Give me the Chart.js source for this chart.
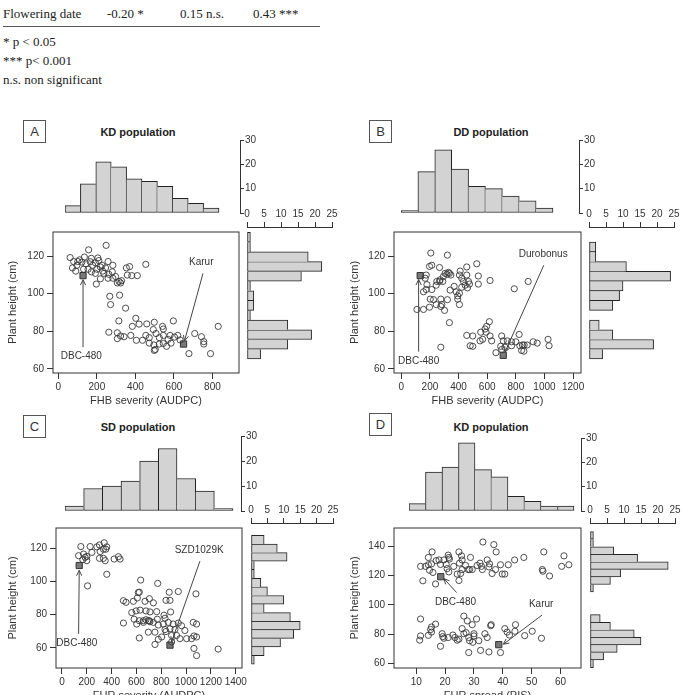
<!DOCTYPE html>
<html>
<head>
<meta charset="utf-8">
<script src="https://cdn.jsdelivr.net/npm/chart.js@4.4.0/dist/chart.umd.min.js"></script>
<style>
  body { margin: 0; width: 684px; height: 695px; overflow: hidden; background: #fff; position: relative;
         font-family: "Liberation Sans", Arial, sans-serif; color: #333; }
  canvas { position: absolute; }
  .txt { position: absolute; font-family: "Liberation Serif", "Times New Roman", serif; font-size: 13px;
         line-height: 16px; color: #222; white-space: nowrap; }
  .rule { position: absolute; left: 3px; top: 26px; width: 317px; border-top: 1px solid #555; }
  .tag { position: absolute; width: 21px; height: 21px; border: 1px solid #555; text-align: center;
         line-height: 21px; font-size: 13px; color: #333; }
  .ttl { position: absolute; font-weight: bold; font-size: 11px; color: #222; white-space: nowrap;
         transform: translate(-50%, -50%); }
</style>
</head>
<body>
<div class="txt" style="left:3px;top:6px">Flowering date</div>
<div class="txt" style="left:107px;top:6px">-0.20 *</div>
<div class="txt" style="left:180px;top:6px">0.15 n.s.</div>
<div class="txt" style="left:253px;top:6px">0.43 ***</div>
<div class="rule"></div>
<div class="txt" style="left:3px;top:34px">* p &lt; 0.05</div>
<div class="txt" style="left:3px;top:53px">*** p&lt; 0.001</div>
<div class="txt" style="left:3px;top:72px">n.s. non significant</div>

<div class="tag" style="left:23px;top:120px">A</div>
<div class="tag" style="left:369px;top:120px">B</div>
<div class="tag" style="left:23px;top:415px">C</div>
<div class="tag" style="left:369px;top:413px">D</div>
<div class="ttl" style="left:138px;top:132px">KD population</div>
<div class="ttl" style="left:491px;top:132px">DD population</div>
<div class="ttl" style="left:138px;top:427px">SD population</div>
<div class="ttl" style="left:491px;top:427px">KD population</div>

<script>
// ---- A: KD population, FHB severity vs plant height ----
const kdFhbPoints = [
  [157,123.3],[248,125.7],[61,119.2],[79,117.1],[101,117.1],[122,116.8],[143,115.9],[171,118.8],[192,116.4],
  [210,117.6],[227,115.1],[258,117.1],[283,115.1],[73,113.7],[96,115.1],[154,113],[178,115.1],[218,114.2],
  [245,113.7],[280,111.6],[297,109.1],[315,106.5],[328,106.9],[353,113.7],[370,114.4],[358,109.9],[381,109.6],
  [410,109.6],[454,115.6],[218,107.9],[197,105.1],[258,108.2],[283,108.2],[306,105.7],[323,105.7],[131,113],
  [171,111.6],[192,110.8],[236,110.8],[262,110.3],[110,118],[135,119.5],[165,117],[200,113],[230,112],[90,112],
  [205,119],[267,98.6],[318,99.2],[271,94.2],[349,92.3],[314,85.5],
  [262,79.5],[306,79.2],[323,77.5],[306,76.1],[376,77.8],[384,82.6],[402,86.9],[419,83.8],[459,83.9],[498,84.8],
  [541,82.6],[597,85.5],[405,75.2],[437,75.2],[454,77.8],[472,76.6],[493,80.9],[507,78.8],[524,76.6],[545,81.2],
  [545,77.8],[545,73.5],[570,75.7],[585,73.7],[603,76.9],[620,77.8],[632,75.4],[580,77.8],[496,72.7],[498,69.8],
  [503,70.3],[708,78.8],[743,77.1],[755,74.5],[755,73.2],[830,82.6],[678,68.1],[790,68.1],[472,73.7],[524,73.2],
  [562,72],[341,77.1]
];
const kdFhbMarkers = [[128,109.6],[650,73.2]];
const kdFhbMarkerNames = ['DBC-480','Karur'];
const kdFhbTopCounts = [3,12,21,19,14,13,11,6,4,2];
const kdFhbSideBins = [67.5,72.5,77.5,82.5,87.5,92.5,97.5,102.5,107.5,112.5,117.5,122.5,127.5];
const kdFhbSideCounts = [4,12,19,12,1,2,2,1,16,22,18,1,1];

// ---- B: DD population, FHB severity vs plant height ----
const ddFhbPoints = [
  [206,121.6],[322,120.5],[527,115.9],[174,109.9],[167,108.2],[197,114.5],[213,115.1],[267,113.9],[336,110.8],
  [318,110.3],[329,111.3],[346,109.9],[306,110.8],[294,109.1],[271,107.4],[267,106.5],[248,106.5],[244,104.5],
  [290,106.5],[411,112],[457,114.2],[406,109.9],[422,108.2],[457,109.9],[538,109.4],[538,105.1],[620,107],
  [476,105.1],[446,104.5],[434,106.5],[369,103.9],[422,103.4],[462,103.1],[469,106.5],[179,104.8],[174,102.2],
  [213,102.2],[155,101],[341,101.9],[383,101],[394,98.8],[406,100.2],[202,97.1],[225,96.8],[276,97.1],[322,96.8],
  [283,94.2],[302,91.1],[406,94.2],[109,91.6],[155,91.6],[197,92.8],[276,93.2],[336,84.6],[244,94.2],[394,97.1],
  [276,71.5],[457,77.8],[499,77.5],[555,79.5],[585,81.2],[596,82.6],[615,85.1],[592,79.5],[568,75.7],[550,74.9],
  [481,72.3],[499,72],[631,74.9],[620,77.5],[701,77.5],[712,74.9],[724,71.5],[740,74.9],[770,74.4],[800,74.4],
  [823,78.3],[828,72.3],[846,72.7],[858,72.7],[879,72.7],[840,69.8],[856,69.4],[921,74.4],[949,73.7],[1025,75.7],
  [1032,72.3],[789,102.6],[886,106.5],[661,68.6],[701,70.3],[694,72],[770,72.3]
];
const ddFhbMarkers = [[132,109.6],[712,67.2]];
const ddFhbMarkerNames = ['DBC-480','Durobonus'];
const ddFhbTopCounts = [1,17,26,18,11,10,7,5,2];
const ddFhbSideBins = [67.5,72.5,77.5,82.5,87.5,92.5,97.5,102.5,107.5,112.5,117.5,122.5];
const ddFhbSideCounts = [4,19,7,3,0,7,9,10,24,11,2,2];

// ---- C: SD population, FUR severity vs plant height ----
const sdFurPoints = [
  [152,121],[174,116.5],[134,115.5],[200,115.1],[241,117.5],[227,121],[281,120.8],[302,122],[340,123.3],
  [334,119.4],[353,119.4],[361,120.8],[308,118],[302,113.9],[334,113.9],[348,112.5],[420,113.5],[455,114.9],
  [468,113.5],[200,112.5],[187,114.5],[361,104.3],[206,97.3],[168,113.1],
  [634,100.8],[771,98.8],[623,93.5],[615,93.3],[495,88.4],[516,87.4],[575,88],[607,90],[669,88],[704,89.6],
  [736,87.1],[838,88.6],[870,88.6],[937,93.9],[864,93.5],[1079,92.5],[562,81.2],[597,82.2],[629,82.7],[677,82.2],
  [709,81.6],[763,81.8],[822,79.6],[875,81.6],[581,77.2],[623,76.3],[655,76.3],[677,76.9],[696,76.3],[704,76.3],
  [768,77.2],[830,77.8],[495,74.9],[602,74.3],[655,75.3],[709,75.7],[736,75.3],[776,73.7],[816,74.3],[856,75.3],
  [896,74.3],[937,74.9],[963,73.3],[1057,75.3],[1084,74.3],[830,71],[870,71.4],[910,71],[990,70.4],[623,65.9],
  [696,69.4],[749,69.4],[803,66.5],[838,69.8],[923,67.4],[950,65.5],[1004,65.5],[1044,65.5],[1063,67.1],
  [1084,66.5],[749,62],[883,63.5],[1063,59.6],[1084,55.3],[1258,59.2],[776,65.1],[883,67.4]
];
const sdFurMarkers = [[139,109.6],[870,61.6]];
const sdFurMarkerNames = ['DBC-480','SZD1029K'];
const sdFurTopCounts = [2,9,10,12,20,25,13,8,1];
const sdFurSideBins = [52.5,57.5,62.5,67.5,72.5,77.5,82.5,87.5,92.5,97.5,102.5,107.5,112.5,117.5,122.5];
const sdFurSideCounts = [1,4,9,13,15,12,4,10,5,3,1,1,11,8,4];

// ---- D: KD population, FUR spread vs plant height ----
const kdSpreadPoints = [
  [33.1,143.1],[36.9,141.3],[37.7,136.3],[15.5,136.3],[14.2,132.5],[21.1,134.1],[21.3,132.5],[24.8,136.3],
  [25.7,133.6],[28.8,132.5],[11.5,126.4],[13.2,126.4],[14.2,127.5],[15.3,128.1],[16.9,130.3],[17.9,130.8],
  [18.4,127.7],[19.6,130.8],[20.4,127.7],[21.5,131.4],[23,126.4],[25,128.6],[25.9,130.8],[27.1,127],[28,124.2],
  [28.5,124.2],[29.4,124.2],[25.9,124.2],[31.1,127],[32.1,128.6],[32.6,126.4],[32.9,124.2],[34.6,130.8],
  [35.4,128.1],[36.3,121.5],[37.5,124.2],[39.2,127.5],[39.8,121.1],[40.7,121.1],[41.9,127.5],[44.1,130.8],
  [47.3,132.5],[35.2,126],[14.6,123.7],[15.8,122.2],[16.7,114.3],[12.3,116.5],[21.3,122.6],[24.2,121.1],
  [24.8,116.7],[54.2,136.3],[53.7,124.2],[53.9,123.1],[56.2,119.8],[61.2,133.6],[60.4,126.4],[62.9,127.5],
  [20.7,124.8],[25.4,121.5],
  [11.5,90.3],[11.5,78.7],[11.2,75.8],[14.2,79.1],[15,83.1],[15.3,84.8],[16.7,86.8],[19,80.2],[19.2,78.2],
  [19.6,77.1],[21.1,77.6],[22.7,79.3],[23.4,77.6],[24.2,75.8],[18.4,71.6],[26.5,92.3],[27.7,89],[30.9,90.3],
  [29.4,86.4],[25.9,83.7],[26.5,80.2],[27.3,80.9],[28.2,77.6],[30,80.2],[30,78.7],[28.5,75.4],[29.6,74.3],
  [28.2,67.3],[32.3,68.8],[33.8,80.2],[34.6,77.6],[35.8,85.7],[36,86.4],[39.2,67.3],[35.2,67.7],[40.7,83.7],
  [41.5,81.3],[44.2,81.9],[44.4,86.4],[42.3,79.3],[47.6,78.9],[50.2,81.9],[53.4,77.1],[31.7,75.4],[24.8,76.5],
  [15.3,81.3]
];
const kdSpreadMarkers = [[18.5,119.3],[38.6,72.7]];
const kdSpreadMarkerNames = ['DBC-480','Karur'];
const kdSpreadTopCounts = [3,16,18,28,17,14,6,4,2,2];
const kdSpreadSideBins = [59.5,64.5,69.5,74.5,79.5,84.5,89.5,94.5,99.5,104.5,109.5,114.5,119.5,124.5,129.5,134.5,139.5,144.5];
const kdSpreadSideCounts = [1,4,8,15,13,6,3,0,0,0,1,6,9,23,14,7,1,1];

// tick labels
const heightTicks = [60,80,100,120];
const heightTicksD = [60,80,100,120,140];
const fhbTicksA = [0,200,400,600,800];
const fhbTicksB = [0,200,400,600,800,1000,1200];
const furTicksC = [0,200,400,600,800,1000,1200,1400];
const spreadTicksD = [10,20,30,40,50,60];
const countTicks = [0,10,20,30];
const sideTicks = [0,5,10,15,20,25];

Chart.defaults.font.family = '"Liberation Sans", Arial, Helvetica, sans-serif';
Chart.defaults.font.size = 10;
Chart.defaults.color = '#333';

const panels = [
  { pts: kdFhbPoints, marks: kdFhbMarkers, top: kdFhbTopCounts, bins: kdFhbSideBins, side: kdFhbSideCounts,
    xTicks: fhbTicksA, yTicks: heightTicks, xTitle: 'FHB severity (AUDPC)', xRange: [-28, 938], yRange: [57.8, 132.8],
    ox: 0, box: {L: 53, T: 227, R: 239, B: 373}, hist: {L: 65, barsR: 219, axis: 240, y30: 140, y0: 218},
    sideAx: {x0: 247, x25: 332},
    notes: [{text: kdFhbMarkerNames[0], at: [119, 66.7], from: [128, 71.5], to: [128, 107.4]},
            {text: kdFhbMarkerNames[1], at: [742, 116.8], from: [751, 110.8], to: [655, 74.9]}] },
  { pts: ddFhbPoints, marks: ddFhbMarkers, top: ddFhbTopCounts, bins: ddFhbSideBins, side: ddFhbSideCounts,
    xTicks: fhbTicksB, yTicks: heightTicks, xTitle: 'FHB severity (AUDPC)', xRange: [-51, 1255], yRange: [57.8, 132.8],
    ox: 342, box: {L: 394, T: 227, R: 581, B: 373}, hist: {L: 401, barsR: 553, axis: 579, y30: 140, y0: 218},
    sideAx: {x0: 589, x25: 674},
    notes: [{text: ddFhbMarkerNames[0], at: [121, 64.1], from: [121, 69.2], to: [121, 107.5]},
            {text: ddFhbMarkerNames[1], at: [991, 121], from: [995, 115.1], to: [724, 68.9]}] },
  { pts: sdFurPoints, marks: sdFurMarkers, top: sdFurTopCounts, bins: sdFurSideBins, side: sdFurSideCounts,
    xTicks: furTicksC, yTicks: heightTicks, xTitle: 'FUR severity (AUDPC)', xRange: [-48, 1450], yRange: [47.8, 132.2],
    ox: 0, box: {L: 56, T: 523, R: 242, B: 668}, hist: {L: 65, barsR: 233, axis: 241, y30: 436, y0: 516},
    sideAx: {x0: 251, x25: 333},
    notes: [{text: sdFurMarkerNames[0], at: [120, 62.5], from: [134, 68.4], to: [139, 106.7]},
            {text: sdFurMarkerNames[1], at: [1105, 118.8], from: [1111, 112.2], to: [883, 63.5]}] },
  { pts: kdSpreadPoints, marks: kdSpreadMarkers, top: kdSpreadTopCounts, bins: kdSpreadSideBins, side: kdSpreadSideCounts,
    xTicks: spreadTicksD, yTicks: heightTicksD, xTitle: 'FUR spread (PIS)', xRange: [2.3, 67.1], yRange: [56.7, 152.7],
    ox: 342, box: {L: 394, T: 523, R: 581, B: 668}, hist: {L: 409, barsR: 574, axis: 581, y30: 438, y0: 516},
    sideAx: {x0: 590, x25: 675},
    notes: [{text: kdSpreadMarkerNames[0], at: [23.6, 101.8], from: [24, 108.4], to: [19.6, 118]},
            {text: kdSpreadMarkerNames[1], at: [53.3, 100.7], from: [53.6, 93], to: [40.2, 73]}] }
];

// labels + arrows in data units, plus the R-style box round the plot
const callouts = {
  id: 'callouts',
  afterDatasetsDraw(chart, args, opts) {
    const {ctx, chartArea: ca} = chart;
    const sx = chart.scales.x, sy = chart.scales.y;
    ctx.save();
    ctx.strokeStyle = '#333';
    ctx.lineWidth = 1;
    ctx.strokeRect(ca.left, ca.top, ca.right - ca.left, ca.bottom - ca.top);
    ctx.strokeStyle = '#444';
    ctx.fillStyle = '#333';
    ctx.font = '10px "Liberation Sans", Arial, sans-serif';
    ctx.textAlign = 'center';
    ctx.textBaseline = 'middle';
    (opts.items || []).forEach(n => {
      const x1 = sx.getPixelForValue(n.from[0]), y1 = sy.getPixelForValue(n.from[1]);
      const x2 = sx.getPixelForValue(n.to[0]), y2 = sy.getPixelForValue(n.to[1]);
      const a = Math.atan2(y2 - y1, x2 - x1), h = 6;
      ctx.beginPath();
      ctx.moveTo(x1, y1);
      ctx.lineTo(x2, y2);
      ctx.moveTo(x2 - h * Math.cos(a - 0.45), y2 - h * Math.sin(a - 0.45));
      ctx.lineTo(x2, y2);
      ctx.lineTo(x2 - h * Math.cos(a + 0.45), y2 - h * Math.sin(a + 0.45));
      ctx.stroke();
      ctx.fillText(n.text, sx.getPixelForValue(n.at[0]), sy.getPixelForValue(n.at[1]));
    });
    ctx.restore();
  }
};

function place(left, top, w, h) {
  const c = document.createElement('canvas');
  c.width = w; c.height = h;
  c.style.left = left + 'px'; c.style.top = top + 'px';
  c.style.width = w + 'px'; c.style.height = h + 'px';
  document.body.appendChild(c);
  return c;
}
const fixedTicks = vals => s => { s.ticks = vals.map(v => ({value: v})); };
const plain = v => String(v);
const quiet = {legend: {display: false}, tooltip: {enabled: false}};

// shared edge between two bars is drawn only once, by the taller one
function edge(counts, i, horizontal) {
  if (i === undefined) return 1;
  const lead = i === 0 || counts[i] >= counts[i - 1] ? 1 : 0;
  const trail = i === counts.length - 1 || counts[i] > counts[i + 1] ? 1 : 0;
  return horizontal ? {top: trail, bottom: lead, left: 1, right: 1}
                    : {left: lead, right: trail, top: 1, bottom: 1};
}

function drawScatter(p) {
  const {L, T, R, B} = p.box;
  const c = place(p.ox, T - 4, R - p.ox + 14, B - T + 40);
  new Chart(c, {
    type: 'scatter',
    data: {datasets: [
      {data: p.pts.map(([x, y]) => ({x, y})), pointStyle: 'circle', pointRadius: 3.1,
       pointBorderColor: '#3a3a3a', pointBackgroundColor: 'rgba(0,0,0,0)', pointBorderWidth: 0.9},
      {data: p.marks.map(([x, y]) => ({x, y})), pointStyle: 'rect', pointRadius: 4.4,
       pointBorderColor: '#333', pointBackgroundColor: '#787878', pointBorderWidth: 1}
    ]},
    options: {
      animation: false, responsive: false, events: [],
      layout: {padding: {left: 0, top: 4, right: 14, bottom: 0}},
      plugins: {...quiet, callouts: {items: p.notes}},
      scales: {
        x: {type: 'linear', min: p.xRange[0], max: p.xRange[1],
            afterBuildTicks: fixedTicks(p.xTicks), afterFit: s => { s.height = 36; },
            grid: {drawOnChartArea: false, tickLength: 6, color: '#333'}, border: {display: false},
            ticks: {padding: 2, minRotation: 0, maxRotation: 0, autoSkip: false, callback: plain},
            title: {display: true, text: p.xTitle, font: {size: 11}, padding: {top: 0, bottom: 1.4}}},
        y: {type: 'linear', min: p.yRange[0], max: p.yRange[1],
            afterBuildTicks: fixedTicks(p.yTicks), afterFit: s => { s.width = L - p.ox; },
            grid: {drawOnChartArea: false, tickLength: 6, color: '#333'}, border: {display: false},
            ticks: {padding: 3, autoSkip: false, callback: plain},
            title: {display: true, text: 'Plant height (cm)', font: {size: 11}, padding: {top: 6, bottom: 0}}}
      }
    },
    plugins: [callouts]
  });
}

function drawTopHist(p) {
  const h = p.hist, binW = (h.barsR - h.L) / p.top.length;
  const c = place(h.L, h.y30 - 7, h.axis - h.L + 22, h.y0 - h.y30 + 9);
  new Chart(c, {
    type: 'bar',
    data: {datasets: [{
      data: p.top.map((v, i) => ({x: i + 0.5, y: v})),
      backgroundColor: '#d3d3d3', borderColor: '#222', borderSkipped: false,
      barPercentage: 1, categoryPercentage: 1, borderWidth: ctx => edge(p.top, ctx.dataIndex, false)
    }]},
    options: {
      animation: false, responsive: false, events: [],
      layout: {padding: {left: 0, right: 0, top: 7, bottom: 2}},
      plugins: quiet,
      scales: {
        x: {type: 'linear', display: false, offset: false, min: 0, max: (h.axis - h.L) / binW},
        y: {position: 'right', min: 0, max: 30,
            afterBuildTicks: fixedTicks(countTicks), afterFit: s => { s.width = 22; },
            grid: {drawOnChartArea: false, tickLength: 4, color: '#333'},
            border: {display: true, color: '#333'},
            ticks: {padding: 1, autoSkip: false, callback: v => (v === 0 ? '' : String(v))}}
      }
    }
  });
}

function drawSideHist(p) {
  const s = p.sideAx, {T, B} = p.box;
  const c = place(s.x0 - 10, T - 24, s.x25 - s.x0 + 20, B - T + 26);
  new Chart(c, {
    type: 'bar',
    data: {datasets: [{
      data: p.bins.map((b, i) => ({y: b, x: p.side[i]})),
      backgroundColor: '#d3d3d3', borderColor: '#222', borderSkipped: false,
      barPercentage: 1, categoryPercentage: 1, borderWidth: ctx => edge(p.side, ctx.dataIndex, true)
    }]},
    options: {
      indexAxis: 'y', animation: false, responsive: false, events: [],
      layout: {padding: {left: 10, right: 10, top: 0, bottom: 2}},
      plugins: quiet,
      scales: {
        y: {type: 'linear', display: false, offset: false, min: p.yRange[0], max: p.yRange[1]},
        x: {type: 'linear', position: 'top', min: 0, max: 25,
            afterBuildTicks: fixedTicks(sideTicks), afterFit: sc => { sc.height = 24; },
            grid: {drawOnChartArea: false, tickLength: 5, color: '#333'},
            border: {display: true, color: '#333'},
            ticks: {padding: 2, minRotation: 0, maxRotation: 0, autoSkip: false, callback: plain}}
      }
    }
  });
}

panels.forEach(p => {
  drawTopHist(p);
  drawSideHist(p);
  drawScatter(p);
});
</script>
</body>
</html>
